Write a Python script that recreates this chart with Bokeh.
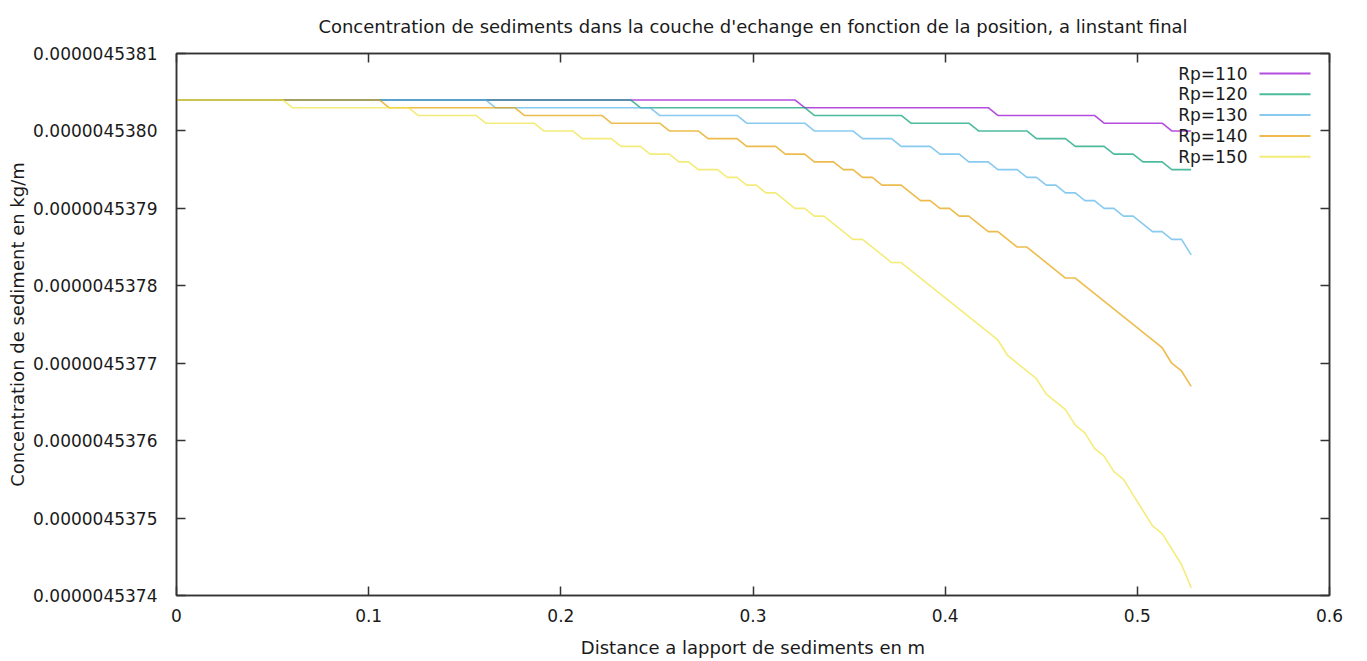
from bokeh.plotting import figure
from bokeh.models import LinearAxis, FixedTicker, PrintfTickFormatter
from bokeh.core.properties import value
from bokeh.embed import file_html
from bokeh.resources import INLINE

# ---------------- data (x in m, y in micro-kg/m) -------------
series_names = ["Rp=110", "Rp=120", "Rp=130", "Rp=140", "Rp=150"]
series_colors = ["#9400D3", "#009E73", "#56B4E9", "#E69F00", "#F0E442"]

x_rp110 = [0, 0.3218, 0.3269, 0.4224, 0.4274, 0.4777, 0.4827, 0.5129, 0.5179, 0.5280]
y_rp110 = [4.53804, 4.53804, 4.53803, 4.53803, 4.53802, 4.53802, 4.53801, 4.53801,
           4.53800, 4.53800]

x_rp120 = [0, 0.2363, 0.2414, 0.3269, 0.3319, 0.3771, 0.3822, 0.4123, 0.4174, 0.4425,
           0.4475, 0.4626, 0.4677, 0.4827, 0.4878, 0.4978, 0.5029, 0.5129, 0.5179, 0.5280]
y_rp120 = [4.53804, 4.53804, 4.53803, 4.53803, 4.53802, 4.53802, 4.53801, 4.53801,
           4.53800, 4.53800, 4.53799, 4.53799, 4.53798, 4.53798, 4.53797, 4.53797,
           4.53796, 4.53796, 4.53795, 4.53795]

x_rp130 = [0, 0.1609, 0.1659, 0.2464, 0.2514, 0.2917, 0.2967, 0.3269, 0.3319, 0.3520,
           0.3570, 0.3721, 0.3771, 0.3922, 0.3973, 0.4073, 0.4123, 0.4224, 0.4274, 0.4375,
           0.4425, 0.4475, 0.4526, 0.4576, 0.4626, 0.4677, 0.4727, 0.4777, 0.4827, 0.4878,
           0.4928, 0.4978, 0.5079, 0.5129, 0.5179, 0.5230, 0.5280]
y_rp130 = [4.53804, 4.53804, 4.53803, 4.53803, 4.53802, 4.53802, 4.53801, 4.53801,
           4.53800, 4.53800, 4.53799, 4.53799, 4.53798, 4.53798, 4.53797, 4.53797,
           4.53796, 4.53796, 4.53795, 4.53795, 4.53794, 4.53794, 4.53793, 4.53793,
           4.53792, 4.53792, 4.53791, 4.53791, 4.53790, 4.53790, 4.53789, 4.53789,
           4.53787, 4.53787, 4.53786, 4.53786, 4.53784]

x_rp140 = [0, 0.1056, 0.1106, 0.1760, 0.1810, 0.2213, 0.2263, 0.2514, 0.2565, 0.2715,
           0.2766, 0.2917, 0.2967, 0.3118, 0.3168, 0.3269, 0.3319, 0.3419, 0.3470, 0.3520,
           0.3570, 0.3621, 0.3671, 0.3771, 0.3872, 0.3922, 0.3973, 0.4023, 0.4073, 0.4123,
           0.4224, 0.4274, 0.4375, 0.4425, 0.4626, 0.4677, 0.5129, 0.5179, 0.5230, 0.5280]
y_rp140 = [4.53804, 4.53804, 4.53803, 4.53803, 4.53802, 4.53802, 4.53801, 4.53801,
           4.53800, 4.53800, 4.53799, 4.53799, 4.53798, 4.53798, 4.53797, 4.53797,
           4.53796, 4.53796, 4.53795, 4.53795, 4.53794, 4.53794, 4.53793, 4.53793,
           4.53791, 4.53791, 4.53790, 4.53790, 4.53789, 4.53789, 4.53787, 4.53787,
           4.53785, 4.53785, 4.53781, 4.53781, 4.53772, 4.53770, 4.53769, 4.53767]

x_rp150 = [0, 0.0553, 0.0603, 0.1207, 0.1257, 0.1559, 0.1609, 0.1861, 0.1911, 0.2062,
           0.2112, 0.2263, 0.2313, 0.2414, 0.2464, 0.2565, 0.2615, 0.2665, 0.2715, 0.2816,
           0.2866, 0.2917, 0.2967, 0.3017, 0.3067, 0.3118, 0.3218, 0.3269, 0.3319, 0.3369,
           0.3520, 0.3570, 0.3721, 0.3771, 0.4274, 0.4325, 0.4475, 0.4526, 0.4626, 0.4677,
           0.4727, 0.4777, 0.4827, 0.4878, 0.4928, 0.4978, 0.5079, 0.5129, 0.5230, 0.5280]
y_rp150 = [4.53804, 4.53804, 4.53803, 4.53803, 4.53802, 4.53802, 4.53801, 4.53801,
           4.53800, 4.53800, 4.53799, 4.53799, 4.53798, 4.53798, 4.53797, 4.53797,
           4.53796, 4.53796, 4.53795, 4.53795, 4.53794, 4.53794, 4.53793, 4.53793,
           4.53792, 4.53792, 4.53790, 4.53790, 4.53789, 4.53789, 4.53786, 4.53786,
           4.53783, 4.53783, 4.53773, 4.53771, 4.53768, 4.53766, 4.53764, 4.53762,
           4.53761, 4.53759, 4.53758, 4.53756, 4.53755, 4.53753, 4.53749, 4.53748,
           4.53744, 4.53741]

x_ticks = [0, 0.1, 0.2, 0.3, 0.4, 0.5, 0.6]
y_ticks_micro = [4.5374, 4.5375, 4.5376, 4.5377, 4.5378, 4.5379, 4.5380, 4.5381]

MICRO = 1e-6
xs = [x_rp110, x_rp120, x_rp130, x_rp140, x_rp150]
ys = [[v * MICRO for v in s] for s in [y_rp110, y_rp120, y_rp130, y_rp140, y_rp150]]
y_ticks = [v * MICRO for v in y_ticks_micro]

# ---------------- figure -------------
FONT = "DejaVu Sans"
TXT = "#1a1a1a"
AX = "#333333"
FW, FH = 1153, 542
XMIN, XMAX = x_ticks[0], x_ticks[-1]
YMIN, YMAX = y_ticks[0], y_ticks[-1]

p = figure(frame_width=FW, frame_height=FH, x_range=(XMIN, XMAX), y_range=(YMIN, YMAX),
           output_backend="svg", toolbar_location=None,
           min_border_left=176, min_border_right=28, min_border_top=53, min_border_bottom=58,
           title="Concentration de sediments dans la couche d'echange en fonction de la position, a linstant final",
           x_axis_label="Distance a lapport de sediments en m",
           y_axis_label="Concentration de sediment en kg/m")
p.xgrid.visible = False
p.ygrid.visible = False
p.outline_line_color = AX
p.outline_line_width = 1.5
p.background_fill_color = "white"
p.border_fill_color = "white"

p.title.align = "center"
p.title.vertical_align = "top"
p.title.text_font = FONT
p.title.text_font_size = "18px"
p.title.text_line_height = 0.7
p.title.text_font_style = "normal"
p.title.text_color = TXT
p.title.standoff = 30


def style_axis(ax, ticks, fmt, show_labels=True):
    ax.ticker = FixedTicker(ticks=ticks)
    ax.formatter = PrintfTickFormatter(format=fmt)
    ax.axis_line_color = AX
    ax.axis_line_width = 1.5
    ax.major_tick_line_color = AX
    ax.major_tick_line_width = 1.5
    ax.major_tick_in = 9
    ax.major_tick_out = 0
    ax.minor_tick_line_color = None
    ax.major_label_text_font = FONT
    ax.major_label_text_color = TXT
    ax.axis_label_text_font = FONT
    ax.axis_label_text_font_style = "normal"
    ax.axis_label_text_color = TXT
    ax.axis_label_text_font_size = "18px"
    if show_labels:
        ax.major_label_text_font_size = "17px"
    else:
        ax.major_label_text_font_size = "1px"
        ax.major_label_text_color = None
        ax.major_label_standoff = 0


xa = p.xaxis[0]
ya = p.yaxis[0]
style_axis(xa, x_ticks, "%g")
style_axis(ya, y_ticks, "%.10f")
xa.major_label_standoff = 13
xa.axis_label_standoff = 12
ya.major_label_standoff = 19
ya.axis_label_standoff = 2

top_ax = LinearAxis()
right_ax = LinearAxis()
style_axis(top_ax, x_ticks, "%g", show_labels=False)
style_axis(right_ax, y_ticks, "%.10f", show_labels=False)
p.add_layout(top_ax, "above")
p.add_layout(right_ax, "right")

for x, y, c in zip(xs, ys, series_colors):
    p.line(x, y, line_color=c, line_width=1.6, line_alpha=0.7)


# ---------------- legend (gnuplot style: label on the left, sample on the right) ----
def fx(px):
    return XMIN + px / FW * (XMAX - XMIN)


def fy(py):
    return YMAX - py / FH * (YMAX - YMIN)


rows = [20 + 20.8 * i for i in range(len(series_names))]
p.text(x=[fx(1071)] * len(rows), y=[fy(r) for r in rows], text=series_names,
       text_align="right", text_baseline="middle", text_font=value(FONT),
       text_font_size="17px", text_color=TXT)
p.segment(x0=[fx(1083)] * len(rows), y0=[fy(r) for r in rows],
          x1=[fx(1134)] * len(rows), y1=[fy(r) for r in rows],
          line_color=series_colors, line_width=2, line_alpha=0.7)

open("out.html", "w").write(file_html(p, INLINE))
